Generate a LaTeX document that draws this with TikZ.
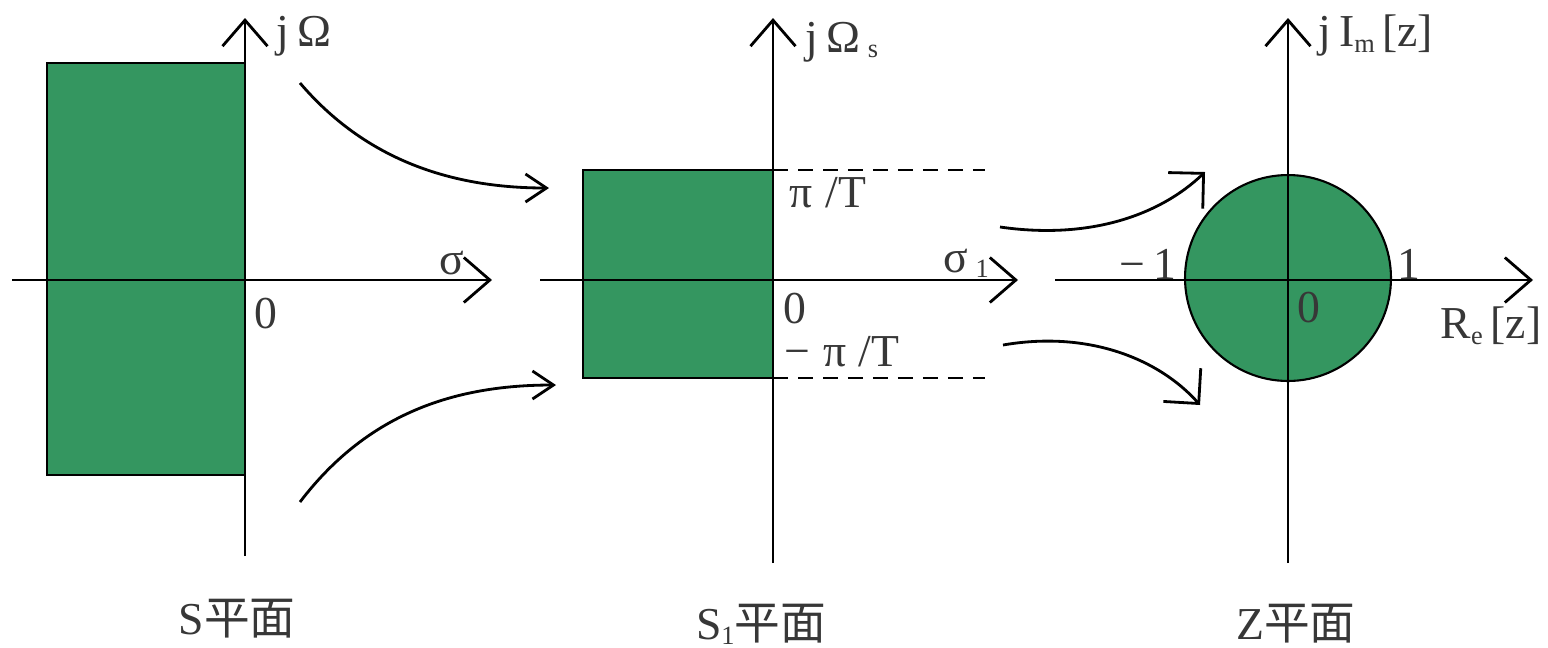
\documentclass[tikz,border=0pt]{standalone}
\usepackage{fontspec}
\setmainfont{Liberation Serif}
\newfontfamily\cjk{Noto Sans CJK SC}
\usetikzlibrary{arrows.meta}
\definecolor{pgreen}{RGB}{52,150,96}
\definecolor{lblgray}{RGB}{55,55,55}
\newcommand{\sbs}[1]{\raisebox{-3pt}{\fontsize{15}{15}\selectfont #1}}
\begin{document}
\begin{tikzpicture}[x=0.02cm,y=-0.02cm,
  axis/.style={line width=1.6pt,-{Straight Barb[length=0.52cm,width=0.9cm]}},
  mapa/.style={line width=1.6pt,-{Straight Barb[length=0.42cm,width=0.56cm]}},
  mapz/.style={line width=1.6pt,-{Straight Barb[length=0.5cm,width=1.0cm]}},
  region/.style={fill=pgreen,draw=black,line width=1.2pt},
  guide/.style={line width=1.5pt,dash pattern=on 0.3cm off 0.2cm},
  lbl/.style={text=lblgray,inner sep=0pt,font=\fontsize{26}{26}\selectfont},
  caption/.style={text=lblgray,inner sep=1pt,font=\fontsize{26}{26}\selectfont}
]
\useasboundingbox (0,0) rectangle (1548,647);

% ---------- S plane ----------
\fill[region] (47,63) rectangle (245,475);
\coordinate (s1xL) at (12,280);
\coordinate (s1xR) at (492,280);
\coordinate (s1yB) at (245,556);
\coordinate (s1yT) at (245,18);
\draw[axis] (s1xL) -- (s1xR);
\draw[axis] (s1yB) -- (s1yT);
\node[lbl] (jO) at (304,36) {j\,Ω};
\node[lbl] (sig) at (452,263) {σ};
\node[lbl] (o1) at (266,314) {0};
\node[caption] (capS) at (237,619) {S{\cjk 平面}};

% ---------- mapping arrows S -> S1 ----------
\coordinate (a1s) at (300,83);
\coordinate (a1e) at (549,188);
\coordinate (a2s) at (300,502);
\coordinate (a2e) at (556,385);
\draw[mapa] (a1s) .. controls (370,165) and (460,188) .. (a1e);
\draw[mapa] (a2s) .. controls (370,410) and (460,385) .. (a2e);

% ---------- S1 plane ----------
\fill[region] (583,170) rectangle (773,378);
\coordinate (d1s) at (773,170);
\coordinate (d1e) at (985,170);
\coordinate (d2s) at (773,378);
\coordinate (d2e) at (985,378);
\draw[guide] (d1s) -- (d1e);
\draw[guide] (d2s) -- (d2e);
\coordinate (s2xL) at (540,280);
\coordinate (s2xR) at (1018,280);
\coordinate (s2yB) at (773,563);
\coordinate (s2yT) at (773,18);
\draw[axis] (s2xL) -- (s2xR);
\draw[axis] (s2yB) -- (s2yT);
\node[lbl] (jOs) at (842,42) {j\,Ω\,\sbs{s}};
\node[lbl] (piT) at (828,193) {π\;/T};
\node[lbl] (mpiT) at (842,352) {−\;π\;/T};
\node[lbl] (sig1) at (966,263) {σ\,\sbs{1}};
\node[lbl] (o2) at (795,309) {0};
\node[caption] (capS1) at (761,624) {S\sbs{1}{\cjk 平面}};

% ---------- mapping arrows S1 -> Z ----------
\coordinate (b1s) at (1000,227);
\coordinate (b1e) at (1205,172);
\coordinate (b2s) at (1003,345);
\coordinate (b2e) at (1200,405);
\draw[mapz] (b1s) .. controls (1090,240) and (1160,215) .. (b1e);
\draw[mapz] (b2s) .. controls (1090,330) and (1160,360) .. (b2e);

% ---------- Z plane ----------
\node[draw=black,fill=pgreen,line width=1.2pt,circle,minimum size=4.12cm,inner sep=0pt] (uc) at (1288,278) {};
\coordinate (s3xL) at (1055,280);
\coordinate (s3xR) at (1533,280);
\coordinate (s3yB) at (1288,563);
\coordinate (s3yT) at (1288,18);
\draw[axis] (s3xL) -- (s3xR);
\draw[axis] (s3yB) -- (s3yT);
\node[lbl] (jIm) at (1376,36) {j\,I\sbs{m}\,[z]};
\node[lbl] (m1) at (1148,264) {−\,1};
\node[lbl] (p1) at (1409,264) {1};
\node[lbl] (o3) at (1309,308) {0};
\node[lbl] (Rez) at (1491,326) {R\sbs{e}\,[z]};
\node[caption] (capZ) at (1296,624) {Z{\cjk 平面}};
\end{tikzpicture}
\end{document}
